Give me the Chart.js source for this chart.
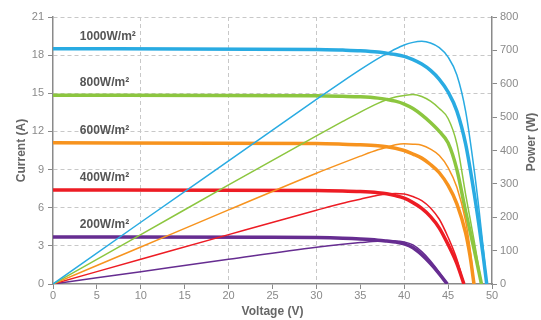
<!DOCTYPE html>
<html>
<head>
<meta charset="utf-8">
<script src="https://cdn.jsdelivr.net/npm/chart.js@4.4.1/dist/chart.umd.min.js"></script>
<style>
  html, body { margin: 0; padding: 0; background: #fff; }
  #wrap { width: 541px; height: 320px; }
</style>
</head>
<body>
<div id="wrap"><canvas id="pvChart" width="541" height="320"></canvas></div>
<script>
// --- DATA ---
const irradianceLabels = ['1000W/m\u00b2', '800W/m\u00b2', '600W/m\u00b2', '400W/m\u00b2', '200W/m\u00b2'];
const seriesColors = ['#29abe2', '#8cc63f', '#f7931e', '#ed1c24', '#662d91'];

// I-V curves: voltage (V) / current (A)
const ivVolt1000 = [0, 30, 33, 35, 37, 38, 39, 40, 41, 42, 43, 44, 45, 46, 47, 48, 48.5, 49, 49.4];
const ivAmp1000  = [18.5, 18.45, 18.4, 18.35, 18.25, 18.15, 18.05, 17.9, 17.65, 17.3, 16.8, 16.1, 15.1, 13.6, 11.0, 7.0, 4.7, 2.2, 0];
const ivVolt800  = [0, 30, 33, 35, 37, 38, 39, 40, 41, 42, 43, 44, 45, 46, 47, 48, 48.8];
const ivAmp800   = [14.85, 14.8, 14.76, 14.72, 14.62, 14.52, 14.38, 14.15, 13.8, 13.3, 12.7, 12.0, 11.1, 9.0, 5.7, 2.6, 0];
const ivVolt600  = [0, 30, 33, 35, 37, 38, 39, 40, 41, 42, 43, 44, 45, 46, 47, 47.5, 47.95];
const ivAmp600   = [11.1, 11.05, 11.0, 10.95, 10.87, 10.8, 10.68, 10.5, 10.22, 9.9, 9.4, 8.75, 7.75, 6.3, 4.0, 2.2, 0];
const ivVolt400  = [0, 30, 33, 35, 37, 38, 39, 40, 41, 42, 43, 44, 45, 46, 46.8];
const ivAmp400   = [7.4, 7.36, 7.32, 7.27, 7.18, 7.1, 6.95, 6.75, 6.4, 5.95, 5.3, 4.4, 3.1, 1.6, 0];
const ivVolt200  = [0, 25, 30, 33, 35, 37, 38, 39, 40, 41, 42, 43, 44, 44.9];
const ivAmp200   = [3.7, 3.68, 3.65, 3.6, 3.54, 3.45, 3.38, 3.3, 3.15, 2.85, 2.3, 1.6, 0.8, 0];

// P-V curves: voltage (V) / power (W)
const pvVolt1000 = [0, 10, 20, 30, 33, 35, 37, 38, 39, 40, 41, 42, 43, 44, 45, 46, 47, 48, 48.5, 49, 49.4];
const pvWatt1000 = [0, 185, 369, 553, 607, 642, 675, 690, 704, 716, 724, 727, 722, 708, 680, 626, 517, 336, 228, 108, 0];
const pvVolt800  = [0, 10, 20, 30, 33, 35, 37, 38, 39, 40, 41, 42, 43, 44, 45, 46, 47, 48, 48.8];
const pvWatt800  = [0, 148, 297, 444, 487, 515, 541, 552, 560, 565, 568, 562, 548, 526, 496, 420, 268, 125, 0];
const pvVolt600  = [0, 10, 20, 30, 33, 35, 37, 38, 39, 40, 41, 42, 43, 44, 45, 46, 47, 47.5, 47.95];
const pvWatt600  = [0, 111, 222, 332, 363, 383, 402, 410, 417, 420, 419, 416, 404, 385, 349, 290, 188, 105, 0];
const pvVolt400  = [0, 10, 20, 30, 33, 35, 37, 38, 39, 40, 41, 42, 43, 44, 45, 46, 46.8];
const pvWatt400  = [0, 74, 148, 221, 242, 254, 266, 270, 271, 270, 262, 250, 228, 194, 140, 74, 0];
const pvVolt200  = [0, 10, 20, 30, 33, 35, 37, 38, 39, 40, 41, 42, 43, 44, 44.9];
const pvWatt200  = [0, 37, 74, 110, 119, 124, 128, 128, 129, 126, 117, 97, 69, 35, 0];

const ivSeries = [
    [ivVolt1000, ivAmp1000], [ivVolt800, ivAmp800], [ivVolt600, ivAmp600],
    [ivVolt400, ivAmp400], [ivVolt200, ivAmp200]
];
const pvSeries = [
    [pvVolt1000, pvWatt1000], [pvVolt800, pvWatt800], [pvVolt600, pvWatt600],
    [pvVolt400, pvWatt400], [pvVolt200, pvWatt200]
];

const FONT = "'Liberation Sans', Arial, Helvetica, sans-serif";
Chart.defaults.font.family = FONT;

function toPoints(xs, ys) {
    return xs.map((x, i) => ({ x: x, y: ys[i] }));
}

const datasets = [];
pvSeries.forEach((s, i) => {
    datasets.push({
        data: toPoints(s[0], s[1]),
        yAxisID: 'y2',
        borderColor: seriesColors[i],
        borderWidth: 1.5,
        pointRadius: 0,
        cubicInterpolationMode: 'monotone',
        fill: false
    });
});
ivSeries.forEach((s, i) => {
    datasets.push({
        data: toPoints(s[0], s[1]),
        yAxisID: 'y',
        borderColor: seriesColors[i],
        borderWidth: 3.5,
        pointRadius: 0,
        cubicInterpolationMode: 'monotone',
        fill: false
    });
});

// --- LABELS + RIGHT TITLE ---
const annotate = {
    id: 'annotate',
    afterDraw(chart) {
        const ctx = chart.ctx;
        const xs = chart.scales.x, ys = chart.scales.y;
        ctx.save();
        ctx.font = 'bold 12px ' + FONT;
        ctx.fillStyle = '#555';
        ctx.textAlign = 'left';
        ctx.textBaseline = 'middle';
        irradianceLabels.forEach((txt, i) => {
            const isc = ivSeries[i][1][0];
            ctx.fillText(txt, xs.getPixelForValue(3.05), ys.getPixelForValue(isc) - 12.5);
        });
        // right axis title reads bottom-to-top in the reference
        ctx.translate(532, 142);
        ctx.rotate(-Math.PI / 2);
        ctx.textAlign = 'center';
        ctx.fillStyle = '#666';
        ctx.fillText('Power (W)', 0, 0);
        ctx.restore();
    }
};

const tickGray = '#8a8a8a';

new Chart(document.getElementById('pvChart'), {
    type: 'line',
    data: { datasets: datasets },
    options: {
        responsive: false,
        devicePixelRatio: 1,
        animation: false,
        layout: { padding: { top: 17, left: 0, right: 0, bottom: 0 } },
        plugins: { legend: { display: false }, tooltip: { enabled: false } },
        scales: {
            x: {
                type: 'linear', min: 0, max: 50,
                ticks: { stepSize: 5, color: tickGray, font: { size: 11 }, padding: 0 },
                grid: {
                    color: c => (c.tick && c.tick.value % 10 === 0 && c.tick.value > 0 && c.tick.value < 50) ? '#c8c8c8' : 'transparent',
                    tickColor: tickGray, tickLength: 5, lineWidth: 1
                },
                border: { color: tickGray, width: 1.5, dash: [4, 3] },
                title: { display: true, text: 'Voltage (V)', color: '#666', font: { size: 12, weight: 'bold' }, padding: { top: 0, bottom: 1 } },
                afterFit: s => { s.height = 36; }
            },
            y: {
                position: 'left', min: 0, max: 21,
                ticks: { stepSize: 3, color: tickGray, font: { size: 11 }, padding: 4 },
                grid: {
                    color: c => (c.tick && c.tick.value > 0) ? '#c8c8c8' : 'transparent',
                    tickColor: tickGray, tickLength: 5, lineWidth: 1
                },
                border: { color: tickGray, width: 1.5, dash: [4, 3] },
                title: { display: true, text: 'Current (A)', color: '#666', font: { size: 12, weight: 'bold' }, padding: { top: 14, bottom: 0 } },
                afterFit: s => { s.width = 53; }
            },
            y2: {
                position: 'right', min: 0, max: 800,
                ticks: { stepSize: 100, color: tickGray, font: { size: 11 }, padding: 3 },
                grid: { drawOnChartArea: false, tickColor: tickGray, tickLength: 5 },
                border: { color: tickGray, width: 1.5 },
                title: { display: false },
                afterFit: s => { s.width = 49; }
            }
        }
    },
    plugins: [annotate]
});
</script>
</body>
</html>
